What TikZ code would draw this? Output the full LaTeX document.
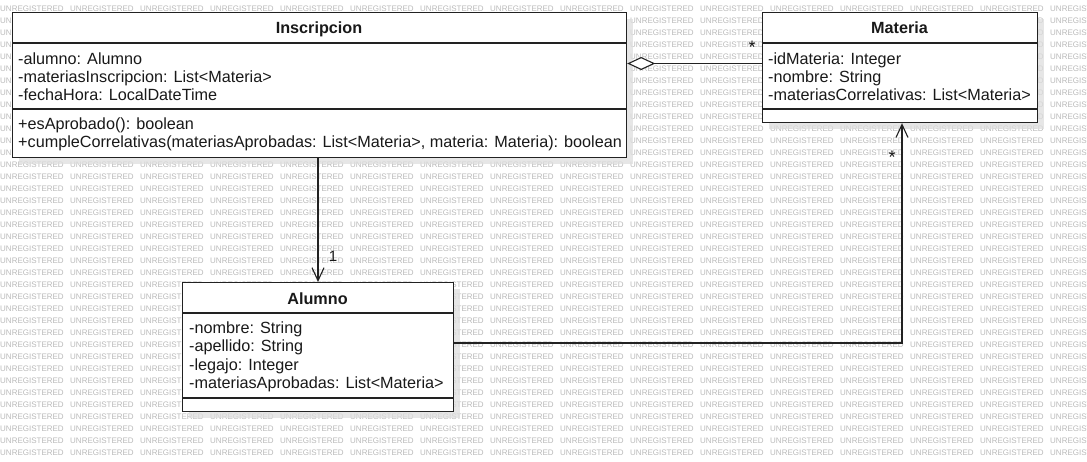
\documentclass[tikz,border=0pt]{standalone}
\usepackage{fontspec}
\setmainfont{Liberation Sans}
\usetikzlibrary{arrows.meta,calc}
\definecolor{wm}{RGB}{186,186,186}
\definecolor{ln}{RGB}{34,34,34}
\definecolor{txt}{RGB}{25,25,25}
\definecolor{shd}{RGB}{222,222,222}
\begin{document}
\begin{tikzpicture}[x=1pt,y=-1pt,
  wmark/.style={text=wm, font=\fontsize{8}{8}\selectfont, anchor=west, inner sep=0pt},
  classbox/.style={draw=ln, line width=1.2pt, fill=white, anchor=north west, inner sep=0pt},
  shadowbox/.style={fill=shd, opacity=0.75},
  sepline/.style={draw=ln, line width=1.2pt},
  attr/.style={anchor=base west, inner sep=0pt, text=txt, font=\fontsize{16.2}{18}\selectfont},
  ttl/.style={anchor=base, inner sep=0pt, text=txt, font=\fontsize{16.2}{18}\selectfont\bfseries},
  lbl/.style={anchor=base, inner sep=0pt, text=txt, font=\fontsize{15}{16}\selectfont},
  star/.style={anchor=base, inner sep=0pt, text=txt, font=\fontsize{18}{18}\selectfont},
  conn/.style={draw=ln, line width=1.1pt},
  openarrow/.style={-{Straight Barb[length=13pt,width=12pt,line width=1.1pt]}},
  aggr/.style={{Diamond[open,fill=white,length=28pt,width=13pt,line width=1.1pt]}-}]
\useasboundingbox (0,0) rectangle (1087,461);
\fill[white] (0,0) rectangle (1087,461);
% watermark
\begin{scope}
\clip (0,0) rectangle (1087,461);
\foreach \i in {0,...,15}{
  \foreach \j in {0,...,37}{
    \node[wmark] (w\i-\j) at (70*\i, 9+12*\j) {UNREGISTERED};
  }
}
\end{scope}
% shadows
\fill[shadowbox] (19,19) rectangle (633,164);
\fill[shadowbox] (769,19) rectangle (1044,129);
\fill[shadowbox] (189,289) rectangle (460,418);
% Inscripcion
\node[classbox, minimum width=614pt, minimum height=145pt] (insc) at (12,12) {};
\draw[sepline] ($(insc.north west)+(0,31)$) -- ($(insc.north east)+(0,31)$);
\draw[sepline] ($(insc.north west)+(0,97)$) -- ($(insc.north east)+(0,97)$);
\node[ttl] (inscT) at (319,33.5) {Inscripcion};
\node[attr] (inscA1) at (18,64) {-alumno: Alumno};
\node[attr] (inscA2) at (18,82.4) {-materiasInscripcion: List<Materia>};
\node[attr] (inscA3) at (18,100.8) {-fechaHora: LocalDateTime};
\node[attr] (inscM1) at (18,129.5) {+esAprobado(): boolean};
\node[attr] (inscM2) at (18,147.9) {+cumpleCorrelativas(materiasAprobadas: List<Materia>, materia: Materia): boolean};
% Materia
\node[classbox, minimum width=275pt, minimum height=110pt] (mat) at (762,12) {};
\draw[sepline] ($(mat.north west)+(0,31)$) -- ($(mat.north east)+(0,31)$);
\draw[sepline] ($(mat.north west)+(0,97)$) -- ($(mat.north east)+(0,97)$);
\node[ttl] (matT) at (899.5,33.5) {Materia};
\node[attr] (matA1) at (768,64) {-idMateria: Integer};
\node[attr] (matA2) at (768,82.4) {-nombre: String};
\node[attr] (matA3) at (768,100.8) {-materiasCorrelativas: List<Materia>};
% Alumno
\node[classbox, minimum width=271pt, minimum height=129pt] (alum) at (182,282) {};
\draw[sepline] ($(alum.north west)+(0,31)$) -- ($(alum.north east)+(0,31)$);
\draw[sepline] ($(alum.north west)+(0,116)$) -- ($(alum.north east)+(0,116)$);
\node[ttl] (alumT) at (317.5,304) {Alumno};
\node[attr] (alumA1) at (189,333.5) {-nombre: String};
\node[attr] (alumA2) at (189,351.8) {-apellido: String};
\node[attr] (alumA3) at (189,370.1) {-legajo: Integer};
\node[attr] (alumA4) at (189,388.4) {-materiasAprobadas: List<Materia>};
% connectors
\draw[conn, aggr] ($(insc.north east)+(0,51.5)$) -- ($(mat.north west)+(0,51.5)$);
\draw[conn, openarrow] ($(insc.south west)+(306,0)$) -- ($(alum.north west)+(136,0)$);
\draw[conn, openarrow] ($(alum.north east)+(0,61)$) -| ($(mat.south west)+(140,0)$);
% multiplicities
\node[star] (m1) at (752,53) {*};
\node[lbl] (m2) at (333,261) {1};
\node[star] (m3) at (892,163) {*};
\end{tikzpicture}
\end{document}
